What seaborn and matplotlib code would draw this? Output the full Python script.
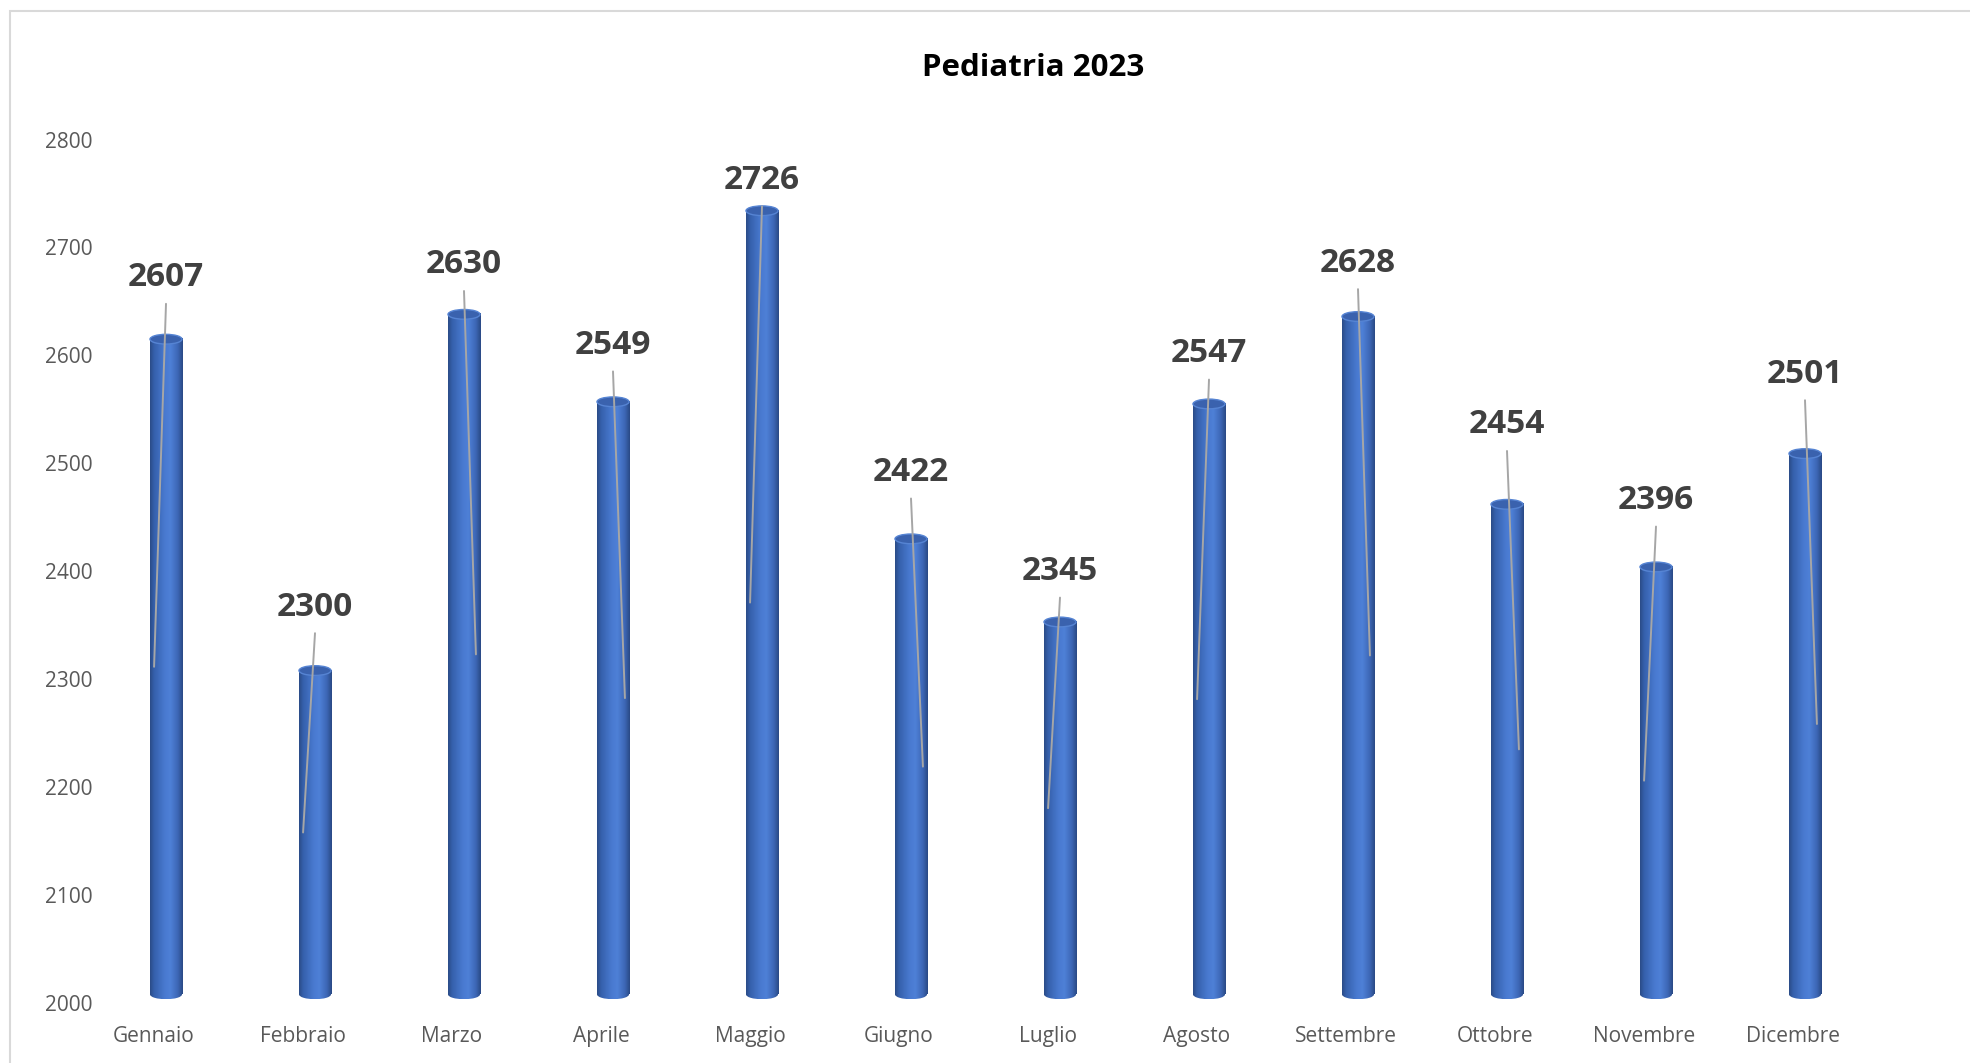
import numpy as np
import pandas as pd
import matplotlib
matplotlib.use("Agg")
import matplotlib.pyplot as plt
import seaborn as sns
from matplotlib.patches import Ellipse, Rectangle
from matplotlib.colors import LinearSegmentedColormap
from matplotlib.transforms import offset_copy, ScaledTranslation

# ---- data ----
months = ["Gennaio", "Febbraio", "Marzo", "Aprile", "Maggio", "Giugno",
          "Luglio", "Agosto", "Settembre", "Ottobre", "Novembre", "Dicembre"]
visits = [2607, 2300, 2630, 2549, 2726, 2422, 2345, 2547, 2628, 2454, 2396, 2501]
y_ticks = [2000, 2100, 2200, 2300, 2400, 2500, 2600, 2700, 2800]
chart_title = "Pediatria 2023"

# label placement: how far (px) each value label sits above its bar, and which
# way its leader line leans as it runs down into the bar
label_lift_px = [70, 72, 58, 65, 39, 75, 59, 59, 62, 88, 75, 88]
lean = [-1, -1, 1, 1, -1, 1, -1, -1, 1, 1, -1, 1]

sns.set_theme(style="white")
plt.rcParams["font.family"] = ["Open Sans", "DejaVu Sans"]

W, H = 1970, 1063
fig = plt.figure(figsize=(W / 100, H / 100), dpi=100)

# plot area in pixels (Excel-like layout)
y_lo, y_hi = 1993, 2800
px_per_unit = 1.08
ax_left, ax_right = 91.5, 1879.5
ax_top = 139.5
ax_bottom = 1003 + (2000 - y_lo) * px_per_unit
ax = fig.add_axes([ax_left / W, 1 - ax_bottom / H,
                   (ax_right - ax_left) / W, (ax_bottom - ax_top) / H])

df = pd.DataFrame({"Mese": months, "Visite": visits})
bar_w = 0.215
sns.barplot(data=df, x="Mese", y="Visite", color="#4472C4", saturation=1,
            width=bar_w, ax=ax, zorder=2)

# cylinder shading; the 3D floor lifts every cylinder a little
cyl = LinearSegmentedColormap.from_list(
    "cyl", [(0.0, "#2B4C88"), (0.12, "#3560AC"), (0.45, "#497AD0"),
            (0.62, "#4E80D7"), (0.85, "#3D67B6"), (1.0, "#2A4A86")])
grad = np.linspace(0, 1, 64).reshape(1, -1)
ell_h = 9
depth = 8

for p in list(ax.patches):
    x0, w, top = p.get_x(), p.get_width(), p.get_height()
    xc = x0 + w / 2
    base = 2000 + depth
    top = top + depth
    p.set_visible(False)
    ax.imshow(grad, cmap=cyl, aspect="auto", extent=[x0, x0 + w, base, top],
              zorder=3, interpolation="bilinear")
    bottom_cap = Ellipse((xc, base), w, ell_h, transform=ax.transData)
    im = ax.imshow(grad, cmap=cyl, aspect="auto",
                   extent=[x0, x0 + w, base - ell_h / 2, base + 0.5],
                   zorder=3, interpolation="bilinear")
    im.set_clip_path(bottom_cap)
    ax.add_patch(Ellipse((xc, top), w, ell_h, facecolor="#3A62AE",
                         edgecolor="#5684D3", lw=1, zorder=4))

ax.set_xlim(-0.5, len(months) - 0.5)
ax.set_ylim(y_lo, y_hi)

# value labels with leader lines
for i, v in enumerate(visits):
    lift_pt = label_lift_px[i] * 0.72
    line_top_pt = (label_lift_px[i] - 26) * 0.72
    ax.annotate(str(v), xy=(i, v), xytext=(0, lift_pt), textcoords="offset points",
                ha="center", va="center", fontsize=24, fontweight="bold",
                color="#404040", annotation_clip=False, zorder=6)
    start = offset_copy(ax.transData, fig=fig, y=line_top_pt, units="points")
    ax.annotate("", xy=(i + lean[i] * 0.08, (2000 + v) / 2 + 8), xytext=(i, v),
                textcoords=start, annotation_clip=False,
                arrowprops=dict(arrowstyle="-", color="#A6A6A6", lw=1.4,
                                shrinkA=0, shrinkB=0), zorder=5)

ax.set_yticks(y_ticks)
ax.set_xlabel("")
ax.set_ylabel("")
ax.tick_params(axis="both", length=0, labelsize=15, labelcolor="#595959")
ax.tick_params(axis="y", pad=-1)
ax.tick_params(axis="x", pad=11)
# category labels sit slightly left of the cylinders (3D perspective)
shift = ScaledTranslation(-12 / 100, 0, fig.dpi_scale_trans)
for lab in ax.get_xticklabels():
    lab.set_transform(lab.get_transform() + shift)
for s in ax.spines.values():
    s.set_visible(False)
ax.grid(False)

fig.text(1033 / W, 1 - 68 / H, chart_title, ha="center", va="center",
         fontsize=22.5, fontweight="bold", color="black")

# chart frame (cut off on right and bottom like the original)
fig.add_artist(Rectangle((10 / W, -0.1), 1.2, 1.1 - 11.5 / H, transform=fig.transFigure,
                         fill=False, edgecolor="#D9D9D9", lw=1.5))

fig.savefig("out.png", dpi=100)
